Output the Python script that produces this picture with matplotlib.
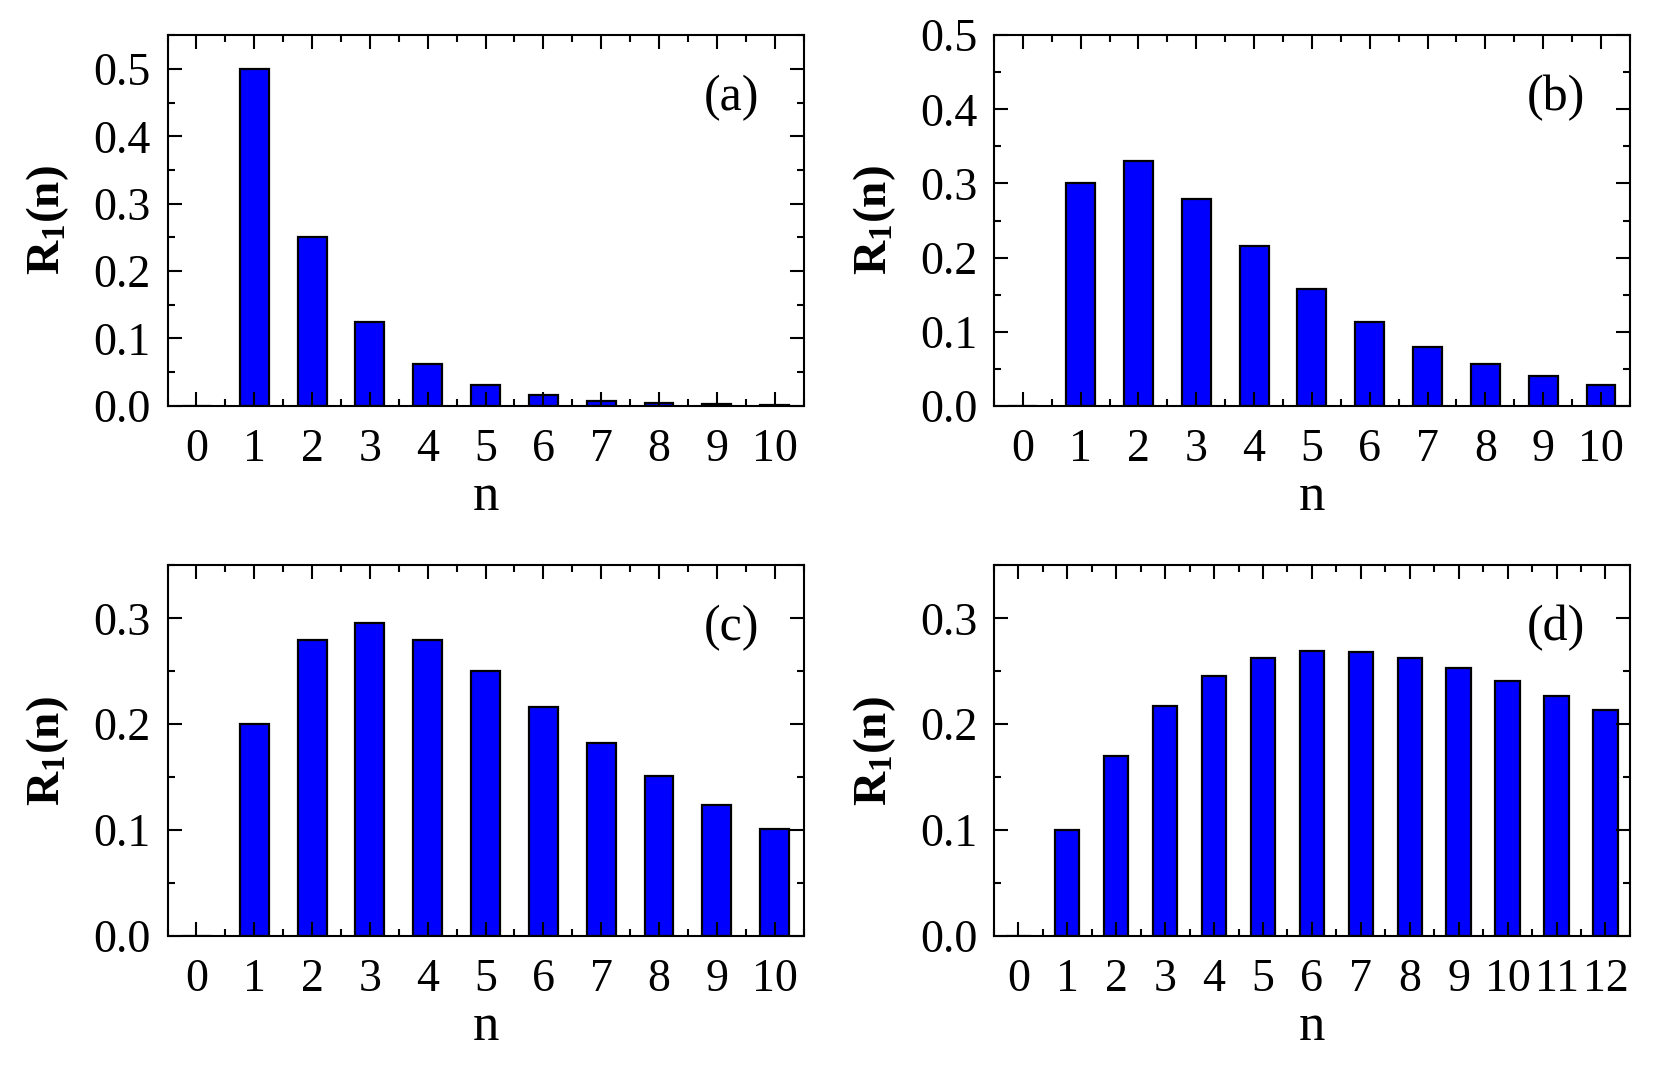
import numpy as np
import matplotlib
matplotlib.use("Agg")
import matplotlib.pyplot as plt
from matplotlib.ticker import MultipleLocator

plt.rcParams['font.family'] = ['Liberation Serif', 'DejaVu Serif']
plt.rcParams['mathtext.fontset'] = 'custom'
plt.rcParams['mathtext.rm'] = 'Liberation Serif'
plt.rcParams['mathtext.bf'] = 'Liberation Serif:bold'

# values (n = 0 has no bar)
n_a = [0, 1, 2, 3, 4, 5, 6, 7, 8, 9, 10]
r_a = [0.0, 0.5, 0.25, 0.125, 0.0625, 0.031, 0.0156, 0.0078, 0.0039, 0.002, 0.001]

n_b = [0, 1, 2, 3, 4, 5, 6, 7, 8, 9, 10]
r_b = [0.0, 0.300, 0.330, 0.279, 0.215, 0.158, 0.113, 0.080, 0.057, 0.040, 0.028]

n_c = [0, 1, 2, 3, 4, 5, 6, 7, 8, 9, 10]
r_c = [0.0, 0.200, 0.280, 0.296, 0.280, 0.250, 0.216, 0.182, 0.151, 0.124, 0.101]

n_d = [0, 1, 2, 3, 4, 5, 6, 7, 8, 9, 10, 11, 12]
r_d = [0.0, 0.100, 0.170, 0.217, 0.246, 0.263, 0.269, 0.268, 0.263, 0.253, 0.241, 0.227, 0.213]

panels = [
    (n_a, r_a, 0.55, "(a)"),
    (n_b, r_b, 0.50, "(b)"),
    (n_c, r_c, 0.35, "(c)"),
    (n_d, r_d, 0.35, "(d)"),
]

fig = plt.figure(figsize=(16.62, 10.68), dpi=100)
boxes = [
    [0.1008, 0.620, 0.3827, 0.347],
    [0.598, 0.620, 0.3827, 0.347],
    [0.1008, 0.1236, 0.3827, 0.347],
    [0.598, 0.1236, 0.3827, 0.347],
]

for box, (n, r, ytop, tag) in zip(boxes, panels):
    ax = fig.add_axes(box)
    ax.bar(n, r, width=0.5, color='#0000ff', edgecolor='black', linewidth=1.6)
    ax.set_xlim(-0.5, n[-1] + 0.5)
    ax.set_ylim(0, ytop)
    ax.xaxis.set_major_locator(MultipleLocator(1))
    ax.xaxis.set_minor_locator(MultipleLocator(0.5))
    ax.yaxis.set_major_locator(MultipleLocator(0.1))
    ax.yaxis.set_minor_locator(MultipleLocator(0.05))
    ax.yaxis.set_major_formatter(matplotlib.ticker.FormatStrFormatter('%.1f'))
    ax.tick_params(which='both', direction='in', top=True, right=True,
                   labelsize=33, width=1.5)
    ax.tick_params(which='major', length=10)
    ax.tick_params(axis='x', which='major', pad=16)
    ax.tick_params(axis='y', which='major', pad=12)
    ax.tick_params(which='minor', length=5)
    for s in ax.spines.values():
        s.set_linewidth(1.5)
    ax.set_xlabel('n', fontsize=38, labelpad=2)
    ax.set_ylabel(r'$\mathbf{R_1(n)}$', fontsize=34, labelpad=16)
    ax.text(0.93, 0.83, tag, transform=ax.transAxes, fontsize=36,
            ha='right', va='center')

fig.savefig('out.png', dpi=100)
